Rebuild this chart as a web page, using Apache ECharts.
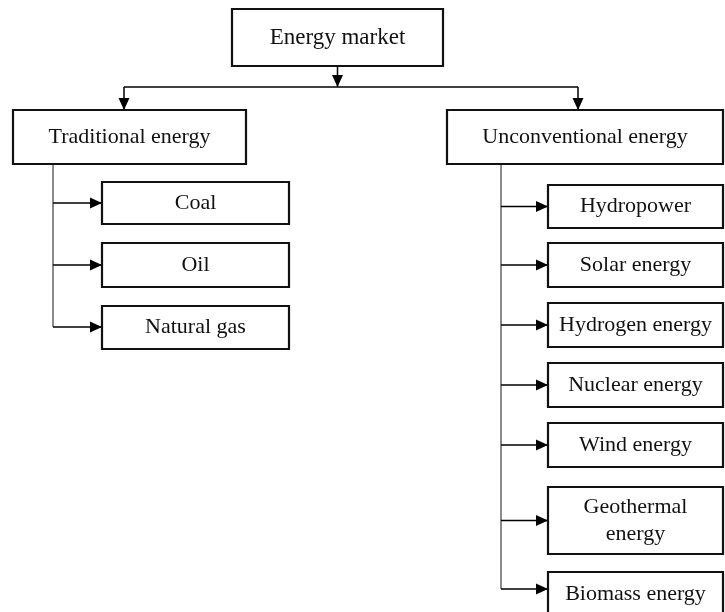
<!DOCTYPE html>
<html>
<head>
<meta charset="utf-8">
<script src="https://cdn.jsdelivr.net/npm/echarts@6/dist/echarts.min.js"></script>
<style>
  html, body { margin: 0; padding: 0; background: #fff; }
  #main { width: 725px; height: 612px; }
</style>
</head>
<body>
<div id="main"></div>
<script>
// names of the boxes
const rootName = 'Energy market'
const branchNames = ['Traditional energy', 'Unconventional energy']
const traditionalItems = ['Coal', 'Oil', 'Natural gas']
const unconventionalItems = ['Hydropower', 'Solar energy', 'Hydrogen energy', 'Nuclear energy', 'Wind energy', 'Geothermal\nenergy', 'Biomass energy']

// layout of the boxes in axis units [x1, y1, x2, y2]
const rootBox = [232, 9, 443, 66]
const branchBoxes = [[13, 110, 246, 164], [447, 110, 723, 164]]
const traditionalRows = [[182, 224], [243, 287], [306, 349]]
const unconventionalRows = [[185, 228], [243, 287], [303, 347], [363, 407], [423, 467], [487, 554], [572, 616]]
const traditionalCol = [102, 289]
const unconventionalCol = [548, 723]
const splitY = 87
const splitX = [124, 578]
const trunkX = [53, 501]
const lastArrowY = [327, 589]

// build box list
let boxes = []
boxes.push([...rootBox, rootName, 23])
branchNames.forEach((n, i) => boxes.push([...branchBoxes[i], n, 22]))
traditionalItems.forEach((n, i) => boxes.push([traditionalCol[0], traditionalRows[i][0], traditionalCol[1], traditionalRows[i][1], n, 22]))
unconventionalItems.forEach((n, i) => boxes.push([unconventionalCol[0], unconventionalRows[i][0], unconventionalCol[1], unconventionalRows[i][1], n, 22]))

// connectors: [points, hasArrow, color]
let links = []
const rootMid = (rootBox[0] + rootBox[2]) / 2
links.push([[[rootMid, rootBox[3]], [rootMid, splitY]], true, '#000'])
links.push([[[splitX[0], splitY], [splitX[1], splitY]], false, '#000'])
splitX.forEach((m, i) => links.push([[[m, splitY], [m, branchBoxes[i][1]]], true, '#000']))
const groups = [[traditionalRows, traditionalCol], [unconventionalRows, unconventionalCol]]
groups.forEach((g, i) => {
  let rows = g[0]
  links.push([[[trunkX[i], branchBoxes[i][3]], [trunkX[i], lastArrowY[i]]], false, '#666'])
  rows.forEach((r, j) => {
    let mid = j === rows.length - 1 ? lastArrowY[i] : (r[0] + r[1]) / 2
    links.push([[[trunkX[i], mid], [g[1][0], mid]], true, '#000'])
  })
})

const chart = echarts.init(document.getElementById('main'))

function arrowHead (p, q) {
  const dx = q[0] - p[0], dy = q[1] - p[1]
  const len = Math.sqrt(dx * dx + dy * dy) || 1
  const ux = dx / len, uy = dy / len
  const L = 12, W = 5.5
  return [
    q,
    [q[0] - ux * L - uy * W, q[1] - uy * L + ux * W],
    [q[0] - ux * L + uy * W, q[1] - uy * L - ux * W]
  ]
}

chart.setOption({
  animation: false,
  grid: { left: 0, right: 0, top: 0, bottom: 0 },
  xAxis: { type: 'value', min: 0, max: 725, show: false },
  yAxis: { type: 'value', min: 0, max: 612, inverse: true, show: false },
  series: [
    {
      type: 'custom',
      coordinateSystem: 'cartesian2d',
      data: links.map((l, i) => [l[0][0][0], l[0][0][1], i]),
      renderItem: (params, api) => {
        const l = links[params.dataIndex]
        const pts = l[0].map(p => api.coord(p))
        const children = [{
          type: 'polyline',
          shape: { points: pts },
          style: { stroke: l[2], lineWidth: 1.5, fill: null }
        }]
        if (l[1]) {
          children.push({
            type: 'polygon',
            shape: { points: arrowHead(pts[pts.length - 2], pts[pts.length - 1]) },
            style: { fill: '#000' }
          })
        }
        return { type: 'group', children }
      },
      z: 1
    },
    {
      type: 'custom',
      coordinateSystem: 'cartesian2d',
      data: boxes.map((b, i) => [b[0], b[1], b[2], b[3], i]),
      renderItem: (params, api) => {
        const b = boxes[params.dataIndex]
        const p1 = api.coord([b[0], b[1]])
        const p2 = api.coord([b[2], b[3]])
        return {
          type: 'group',
          children: [{
            type: 'rect',
            shape: { x: p1[0], y: p1[1], width: p2[0] - p1[0], height: p2[1] - p1[1] },
            style: { fill: '#fff', stroke: '#111', lineWidth: 2.2 }
          }, {
            type: 'text',
            style: {
              x: (p1[0] + p2[0]) / 2,
              y: (p1[1] + p2[1]) / 2,
              text: b[4],
              fill: '#111',
              font: b[5] + 'px "Liberation Serif", serif',
              align: 'center',
              verticalAlign: 'middle',
              lineHeight: 27
            }
          }]
        }
      },
      z: 2
    }
  ]
})
</script>
</body>
</html>
